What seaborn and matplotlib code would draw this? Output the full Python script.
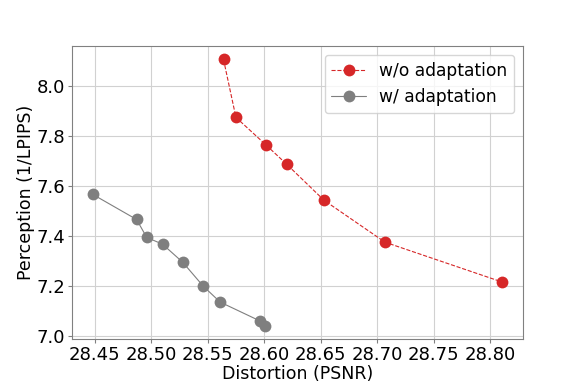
import seaborn as sns
import matplotlib
matplotlib.use("Agg")
import matplotlib.pyplot as plt
import pandas as pd

# distortion (PSNR) vs perception (1/LPIPS)
psnr_wo = [28.564, 28.575, 28.602, 28.620, 28.653, 28.707, 28.811]
perc_wo = [8.107, 7.875, 7.763, 7.687, 7.543, 7.375, 7.215]

psnr_w = [28.448, 28.487, 28.496, 28.510, 28.528, 28.546, 28.561, 28.596, 28.601]
perc_w = [7.567, 7.466, 7.394, 7.367, 7.294, 7.199, 7.135, 7.060, 7.040]

sns.set_style("whitegrid", {"axes.edgecolor": "0.5", "grid.color": "0.82",
                            "xtick.bottom": True, "ytick.left": True,
                            "text.color": "black", "axes.labelcolor": "black",
                            "xtick.color": "black", "ytick.color": "black"})
plt.rcParams["font.family"] = ["DejaVu Sans"]

fig = plt.figure(figsize=(5.81, 3.88), dpi=100)
ax = fig.add_axes([0.124, 0.126, 0.776, 0.755])

df_wo = pd.DataFrame({"x": psnr_wo, "y": perc_wo})
df_w = pd.DataFrame({"x": psnr_w, "y": perc_w})

sns.lineplot(data=df_wo, x="x", y="y", sort=False, ax=ax, color="tab:red",
             marker="o", markersize=8.5, markeredgewidth=0, linestyle="--",
             linewidth=0.8, label="w/o adaptation")
sns.lineplot(data=df_w, x="x", y="y", sort=False, ax=ax, color="tab:gray",
             marker="o", markersize=8.5, markeredgewidth=0, linestyle="-",
             linewidth=0.8, label="w/ adaptation")

ax.set_xlabel("Distortion (PSNR)", fontsize=12.5, labelpad=1)
ax.set_ylabel("Perception (1/LPIPS)", fontsize=12.5, labelpad=1)
ax.tick_params(labelsize=13, length=3, color="0.5", pad=2)
ax.set_xticks([28.45, 28.50, 28.55, 28.60, 28.65, 28.70, 28.75, 28.80])
ax.set_yticks([7.0, 7.2, 7.4, 7.6, 7.8, 8.0])
ax.margins(0.05)
ax.legend(loc="upper right", fontsize=12.3, framealpha=0.8)

fig.savefig("out.png", dpi=100)
